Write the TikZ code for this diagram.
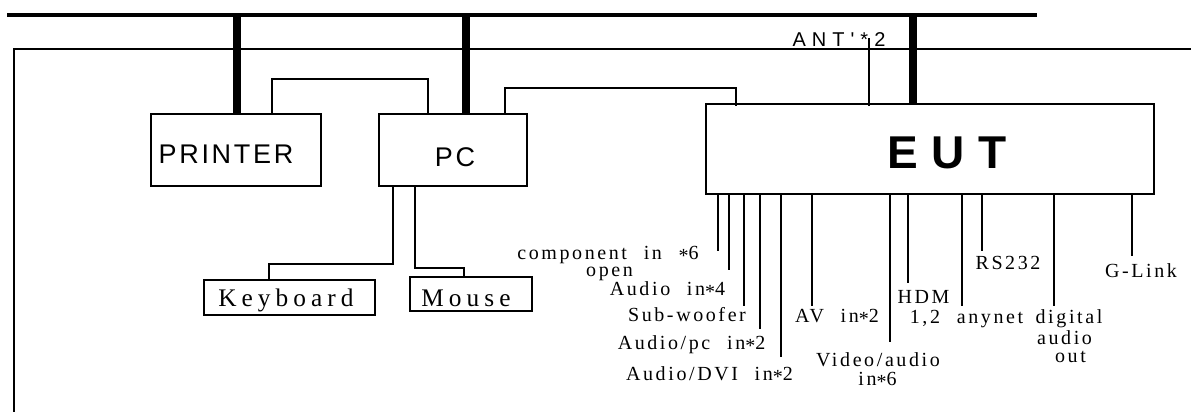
\documentclass[tikz,border=0pt]{standalone}
\usepackage{fontspec}
\setmainfont{Liberation Serif}
\newfontfamily\labfont[LetterSpace=13,WordSpace=2.2]{Liberation Serif}
\newfontfamily\kbfont[LetterSpace=20]{Liberation Serif}
\newfontfamily\boxfont[LetterSpace=10]{Liberation Sans}
\newfontfamily\antfont[LetterSpace=30]{Liberation Sans}
\newfontfamily\eutfont[LetterSpace=29]{Liberation Sans}
\newcommand\midast{\raisebox{-0.35ex}{*}}
\begin{document}
\begin{tikzpicture}[x=0.75pt,y=-0.75pt,
  box/.style={draw,line width=1.5pt,inner sep=0pt,outer sep=0pt},
  smallbox/.style={draw,line width=1.8pt,inner sep=0pt,outer sep=0pt},
  bus/.style={line width=3.4pt},
  drop/.style={line width=6pt},
  frame/.style={line width=1pt},
  cable/.style={line width=1.1pt},
  port/.style={line width=1.9pt},
  lab/.style={inner sep=0pt,anchor=base,font=\labfont\fontsize{15}{16}\selectfont},
  kb/.style={inner sep=0pt,anchor=base,font=\kbfont\fontsize{19}{20}\selectfont},
  bt/.style={inner sep=0pt,anchor=base,font=\boxfont\fontsize{20.25}{22}\selectfont}]
\useasboundingbox (0,0) rectangle (1191,412);

% boxes
\node[box,minimum width=170*0.75pt,minimum height=72*0.75pt] (printer) at (236,150) {};
\node[box,minimum width=148*0.75pt,minimum height=72*0.75pt] (pc) at (453,150) {};
\node[box,minimum width=448*0.75pt,minimum height=90*0.75pt] (eut) at (930,149) {};
\node[smallbox,minimum width=171*0.75pt,minimum height=35*0.75pt] (keyboard) at (289.5,297.5) {};
\node[smallbox,minimum width=122*0.75pt,minimum height=34*0.75pt] (mouse) at (471,294) {};

% box texts
\node[bt] (tprinter) at (226,163) {PRINTER};
\node[bt] (tpc) at (455,166) {PC};
\node[inner sep=0pt,anchor=base,font=\eutfont\bfseries\fontsize{34.5}{36}\selectfont] (teut) at (947,168) {EUT};
\node[kb] (tkb) at (286,306) {Keyboard};
\node[kb] (tmouse) at (466,306) {Mouse};
\node[inner sep=0pt,anchor=base,font=\antfont\fontsize{15}{16}\selectfont] (tant) at (839,46) {ANT'*2};

% bus and frame
\coordinate (busL) at (7,15);
\coordinate (busR) at (1037,15);
\draw[bus] (busL) -- (busR);
\draw[drop] (237,0 |- busL) -- (printer.north -| 237,0);
\draw[drop] (466,0 |- busL) -- (pc.north -| 466,0);
\draw[drop] (913,0 |- busL) -- (eut.north -| 913,0);

\coordinate (frR) at (1191,49);
\coordinate (frTL) at (14,49);
\coordinate (frB) at (14,412);
\draw[frame] (frR) -- (frTL) -- (frB);

% antenna
\coordinate (ant) at (869,38);
\draw[cable] (ant) -- ([yshift=-1.5pt]eut.north -| ant);

% cables
\draw[cable] (printer.north -| 272,0) |- (428,79) -- (pc.north -| 428,0);
\draw[cable] (pc.north -| 505,0) |- (736,88) -- ([yshift=-1.5pt]eut.north -| 736,0);
\draw[port] (pc.south -| 393,0) |- (269,264) -- (keyboard.north -| 269,0);
\draw[port] (pc.south -| 415,0) |- (464,268) -- (mouse.north -| 464,0);

% EUT ports
\foreach \x/\y [count=\i] in {718/251,729/270,744/306,760/329,781/357,812/306,890/342,908/283,962/306,982/251,1054/306,1132/256}{
  \coordinate (p\i) at (\x,\y);
  \draw[port] (eut.south -| p\i) -- (p\i);
}

% labels
\node[lab] (l1) at (608,259) {component in \midast6};
\node[lab] (l1b) at (609.5,276) {open};
\node[lab] (l2) at (667.5,295) {Audio in\midast4};
\node[lab] (l3) at (687,321) {Sub-woofer};
\node[lab] (l4) at (691.5,349) {Audio/pc in\midast2};
\node[lab] (l5) at (709.5,380) {Audio/DVI in\midast2};
\node[lab] (l6) at (837,322) {AV in\midast2};
\node[lab] (l7) at (878,366) {Video/audio};
\node[lab] (l7b) at (877.5,385) {in\midast6};
\node[lab] (l8) at (923.5,303) {HDM};
\node[lab] (l8b) at (925,323) {1,2};
\node[lab] (l9) at (990,323) {anynet};
\node[lab] (l10) at (1008,269) {RS232};
\node[lab] (l11) at (1069,323) {digital};
\node[lab] (l11b) at (1064.5,344) {audio};
\node[lab] (l11c) at (1070.5,362) {out};
\node[lab] (l12) at (1141,277) {G-Link};
\end{tikzpicture}
\end{document}
